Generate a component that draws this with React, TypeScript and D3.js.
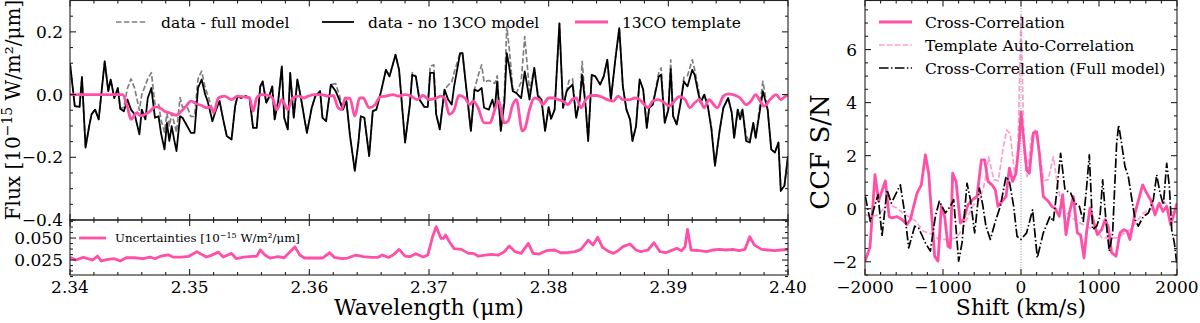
import * as d3 from "d3";

const FONT = "'DejaVu Serif', serif";
const PINK = "#ff4fa6";

// ---- left panel: residual spectra (wavelength in µm, flux in 1e-15 W/m²/µm)
const dataWl = [
  2.3400, 2.3404, 2.3408, 2.3410, 2.3413, 2.3416, 2.3418, 2.3421, 2.3424, 2.3429,
  2.3432, 2.3434, 2.3437, 2.3440, 2.3442, 2.3445, 2.3448, 2.3451, 2.3454, 2.3458,
  2.3460, 2.3463, 2.3465, 2.3468, 2.3471, 2.3474, 2.3476, 2.3479, 2.3481, 2.3483,
  2.3485, 2.3487, 2.3489, 2.3492, 2.3494, 2.3498, 2.3501, 2.3504, 2.3507, 2.3510,
  2.3513, 2.3515, 2.3519, 2.3522, 2.3525, 2.3528, 2.3531, 2.3535, 2.3538, 2.3540,
  2.3543, 2.3547, 2.3550, 2.3553, 2.3556, 2.3559, 2.3561, 2.3564, 2.3566, 2.3569,
  2.3571, 2.3574, 2.3577, 2.3579, 2.3582, 2.3584, 2.3587, 2.3590, 2.3593, 2.3596,
  2.3598, 2.3602, 2.3605, 2.3609, 2.3611, 2.3614, 2.3618, 2.3622, 2.3625, 2.3628,
  2.3631, 2.3634, 2.3638, 2.3641, 2.3643, 2.3646, 2.3650, 2.3653, 2.3656, 2.3660,
  2.3664, 2.3667, 2.3672, 2.3675, 2.3680, 2.3684, 2.3686, 2.3689, 2.3692, 2.3696,
  2.3699, 2.3701, 2.3704, 2.3706, 2.3709, 2.3713, 2.3716, 2.3719, 2.3721, 2.3726,
  2.3728, 2.3731, 2.3735, 2.3738, 2.3741, 2.3744, 2.3746, 2.3750, 2.3753, 2.3755,
  2.3757, 2.3760, 2.3763, 2.3765, 2.3767, 2.3770, 2.3773, 2.3777, 2.3780, 2.3784,
  2.3788, 2.3791, 2.3794, 2.3797, 2.3800, 2.3802, 2.3805, 2.3809, 2.3812, 2.3815,
  2.3817, 2.3820, 2.3823, 2.3826, 2.3828, 2.3831, 2.3833, 2.3836, 2.3839, 2.3843,
  2.3846, 2.3849, 2.3852, 2.3856, 2.3859, 2.3862, 2.3865, 2.3868, 2.3870, 2.3873,
  2.3876, 2.3879, 2.3882, 2.3884, 2.3887, 2.3892, 2.3894, 2.3897, 2.3900, 2.3902,
  2.3904, 2.3907, 2.3910, 2.3913, 2.3916, 2.3920, 2.3922, 2.3925, 2.3927, 2.3930,
  2.3933, 2.3936, 2.3939, 2.3943, 2.3946, 2.3950, 2.3953, 2.3955, 2.3958, 2.3960,
  2.3962, 2.3965, 2.3968, 2.3971, 2.3973, 2.3979, 2.3983, 2.3986, 2.3989, 2.3992,
  2.3994, 2.3997, 2.4000,
];
const fluxNo13CO = [
  0.100, -0.037, -0.039, 0.056, -0.169, -0.101, -0.063, -0.048, -0.079, 0.106,
  0.011, 0.048, -0.011, 0.021, -0.045, -0.053, -0.016, -0.048, -0.063, -0.127,
  -0.048, -0.079, -0.011, 0.021, -0.074, -0.069, -0.122, -0.175, -0.090, -0.148,
  -0.101, -0.143, -0.180, -0.069, -0.074, -0.101, -0.122, -0.122, 0.021, 0.048,
  0.000, -0.021, -0.085, -0.048, -0.021, -0.079, -0.132, -0.143, -0.037, -0.005,
  -0.011, -0.005, -0.011, -0.106, -0.106, 0.026, 0.042, -0.026, -0.011, 0.026,
  -0.079, -0.021, 0.090, -0.074, -0.111, 0.069, -0.074, 0.048, -0.011, -0.079,
  -0.122, -0.042, -0.005, 0.011, -0.074, -0.085, 0.032, 0.011, -0.016, -0.048,
  -0.021, -0.132, -0.243, -0.153, -0.069, -0.074, -0.196, -0.053, -0.048, 0.011,
  0.079, 0.058, 0.127, 0.079, -0.153, -0.032, 0.063, 0.058, -0.016, -0.039,
  -0.039, 0.069, 0.069, -0.063, -0.111, 0.016, -0.016, -0.032, 0.026, 0.132,
  0.132, 0.026, -0.116, 0.016, 0.011, 0.021, -0.042, -0.048, -0.016, -0.048,
  0.042, -0.116, -0.026, 0.132, 0.090, 0.011, 0.005, -0.011, 0.074, -0.016,
  0.085, -0.005, -0.016, -0.116, -0.040, -0.077, -0.048, 0.227, -0.042, 0.011,
  0.021, 0.032, -0.074, -0.016, 0.063, -0.042, -0.148, 0.063, 0.058, 0.032,
  0.058, 0.111, -0.016, 0.122, 0.212, 0.026, -0.048, -0.079, -0.148, -0.101,
  0.048, 0.016, -0.106, -0.042, -0.032, 0.058, 0.063, -0.090, -0.048, 0.081,
  -0.069, -0.095, -0.032, 0.042, 0.026, 0.079, 0.063, 0.005, -0.026, 0.000,
  -0.037, -0.111, -0.227, -0.111, -0.042, -0.011, -0.058, -0.138, -0.048, -0.079,
  -0.048, -0.148, -0.153, -0.090, -0.138, 0.011, -0.048, -0.175, -0.185, -0.153,
  -0.307, -0.291, -0.196,
];
const fluxFull = [
  0.100, -0.037, -0.039, 0.056, -0.169, -0.101, -0.063, -0.048, -0.079, 0.106,
  0.011, 0.048, -0.011, 0.021, -0.045, -0.040, 0.020, 0.050, 0.020, -0.050,
  0.000, 0.030, 0.050, 0.070, -0.030, -0.030, -0.080, -0.120, -0.060, -0.100,
  -0.060, -0.090, -0.120, -0.010, -0.040, -0.040, -0.070, -0.070, 0.050, 0.075,
  0.020, 0.000, -0.050, -0.048, -0.021, -0.079, -0.132, -0.143, -0.037, -0.005,
  -0.011, -0.005, -0.011, -0.106, -0.106, 0.026, 0.042, -0.026, -0.011, 0.026,
  -0.079, -0.021, 0.090, -0.074, -0.111, 0.069, -0.074, 0.048, -0.011, -0.079,
  -0.122, -0.042, -0.005, 0.011, -0.074, -0.085, 0.032, 0.035, 0.000, -0.048,
  -0.021, -0.132, -0.243, -0.153, -0.069, -0.074, -0.196, -0.053, -0.048, 0.011,
  0.079, 0.058, 0.127, 0.079, -0.153, -0.032, 0.070, 0.058, -0.016, -0.039,
  -0.039, 0.090, 0.095, -0.063, -0.111, 0.016, 0.030, 0.040, 0.070, 0.132,
  0.132, 0.026, -0.116, 0.016, 0.060, 0.095, 0.040, 0.045, 0.040, 0.035,
  0.060, -0.116, 0.000, 0.217, 0.150, 0.020, 0.005, 0.040, 0.185, 0.010,
  0.085, 0.000, -0.016, -0.116, -0.040, -0.077, -0.048, 0.227, -0.042, 0.011,
  0.045, 0.050, -0.074, -0.016, 0.106, -0.042, -0.148, 0.063, 0.058, 0.032,
  0.058, 0.111, -0.016, 0.122, 0.212, 0.026, -0.048, -0.079, -0.148, -0.101,
  0.048, 0.016, -0.106, -0.042, -0.032, 0.070, 0.085, -0.090, -0.048, 0.111,
  -0.069, -0.095, -0.032, 0.055, 0.060, 0.111, 0.080, 0.020, -0.026, 0.000,
  -0.037, -0.100, -0.227, -0.111, -0.042, -0.011, -0.058, -0.138, -0.048, -0.060,
  -0.048, -0.130, -0.153, -0.090, -0.138, 0.042, -0.048, -0.175, -0.185, -0.153,
  -0.307, -0.291, -0.196,
];

const templateWl = [
  2.3400, 2.3444, 2.3448, 2.3451, 2.3454, 2.3456, 2.3459, 2.3463, 2.3467, 2.3471,
  2.3475, 2.3479, 2.3483, 2.3489, 2.3493, 2.3497, 2.3501, 2.3506, 2.3510, 2.3514,
  2.3518, 2.3520, 2.3524, 2.3529, 2.3535, 2.3540, 2.3546, 2.3550, 2.3553, 2.3556,
  2.3560, 2.3566, 2.3569, 2.3573, 2.3577, 2.3582, 2.3586, 2.3591, 2.3595, 2.3599,
  2.3604, 2.3610, 2.3616, 2.3620, 2.3624, 2.3627, 2.3630, 2.3634, 2.3638, 2.3642,
  2.3645, 2.3650, 2.3655, 2.3659, 2.3664, 2.3670, 2.3674, 2.3680, 2.3685, 2.3690,
  2.3695, 2.3700, 2.3706, 2.3710, 2.3713, 2.3717, 2.3721, 2.3725, 2.3730, 2.3734,
  2.3737, 2.3741, 2.3746, 2.3751, 2.3755, 2.3758, 2.3763, 2.3766, 2.3770, 2.3773,
  2.3778, 2.3780, 2.3784, 2.3788, 2.3792, 2.3795, 2.3800,
  2.3804, 2.3808, 2.3812, 2.3816, 2.3820, 2.3823, 2.3827, 2.3831, 2.3836, 2.3840,
  2.3844, 2.3849, 2.3854, 2.3858, 2.3862, 2.3868, 2.3872, 2.3876, 2.3880, 2.3883,
  2.3887, 2.3891, 2.3895, 2.3901, 2.3905, 2.3909, 2.3914, 2.3918, 2.3922, 2.3926,
  2.3930, 2.3934, 2.3939, 2.3941, 2.3946, 2.3950, 2.3954, 2.3960, 2.3965, 2.3969,
  2.3973, 2.3976, 2.3980, 2.3985, 2.3990, 2.3994, 2.3998, 2.4000,
];
const templateFlux = [
  0, 0, -0.040, -0.079, -0.065, -0.058, -0.068, -0.063, -0.053, -0.039,
  -0.042, -0.053, -0.058, -0.066, -0.053, -0.037, -0.021, -0.030, -0.035, -0.042,
  -0.040, -0.058, -0.011, -0.005, -0.016, -0.005, -0.008, -0.010, -0.053, -0.011,
  0.000, -0.003, -0.010, -0.048, -0.016, -0.048, -0.011, -0.005, -0.011, -0.005,
  0.000, 0.000, -0.005, -0.003, -0.042, -0.048, -0.011, -0.012, -0.069, -0.011,
  -0.011, -0.042, -0.032, -0.007, -0.005, 0.000, -0.005, 0.000, -0.005, -0.016,
  -0.003, -0.016, -0.011, -0.005, -0.011, -0.063, -0.048, -0.003, -0.011, -0.032,
  -0.021, -0.042, -0.090, -0.090, -0.048, -0.021, -0.090, -0.085, -0.032, -0.016,
  -0.116, -0.110, -0.048, -0.011, -0.016, -0.032, -0.011,
  -0.011, -0.016, -0.021, -0.032, -0.014, -0.011, -0.042, -0.016, -0.003, -0.003,
  -0.007, -0.016, -0.021, -0.005, -0.016, -0.016, -0.011, -0.016, -0.032, -0.042,
  -0.021, -0.016, -0.021, -0.037, -0.021, -0.007, -0.016, -0.042, -0.026, -0.016,
  -0.042, -0.016, -0.037, -0.042, -0.005, 0.002, 0.000, -0.011, -0.032, -0.021,
  0.000, -0.016, -0.037, -0.016, 0.000, -0.016, -0.005, -0.003,
];

const uncWl = [
  2.3400, 2.3405, 2.3411, 2.3415, 2.3419, 2.3423, 2.3426, 2.3432, 2.3437, 2.3442,
  2.3447, 2.3454, 2.3461, 2.3467, 2.3471, 2.3476, 2.3482, 2.3486, 2.3493, 2.3499,
  2.3506, 2.3510, 2.3514, 2.3518, 2.3524, 2.3528, 2.3535, 2.3539, 2.3545, 2.3552,
  2.3556, 2.3559, 2.3563, 2.3567, 2.3574, 2.3579, 2.3588, 2.3592, 2.3596,
  2.3604, 2.3611, 2.3617, 2.3621, 2.3627, 2.3632, 2.3639, 2.3645, 2.3652, 2.3657,
  2.3661, 2.3666, 2.3670, 2.3675, 2.3680, 2.3684, 2.3689, 2.3695, 2.3699, 2.3703,
  2.3706, 2.3710, 2.3712, 2.3714, 2.3717, 2.3721, 2.3727, 2.3733, 2.3737, 2.3741,
  2.3747, 2.3752, 2.3758, 2.3763, 2.3767, 2.3772, 2.3777, 2.3783, 2.3787, 2.3792,
  2.3798,
  2.3805, 2.3810, 2.3816, 2.3822, 2.3827, 2.3833, 2.3837, 2.3841, 2.3845, 2.3849,
  2.3854, 2.3858, 2.3862, 2.3868, 2.3873, 2.3877, 2.3883, 2.3888, 2.3893, 2.3898,
  2.3902, 2.3907, 2.3911, 2.3914, 2.3916, 2.3919, 2.3926, 2.3932, 2.3937, 2.3943,
  2.3948, 2.3954, 2.3959, 2.3964, 2.3968, 2.3972, 2.3978, 2.3983, 2.3989, 2.3994,
  2.4000,
];
const uncVal = [
  0.0280, 0.0250, 0.0280, 0.0265, 0.0250, 0.0295, 0.0240, 0.0258, 0.0265, 0.0240,
  0.0276, 0.0276, 0.0265, 0.0284, 0.0265, 0.0295, 0.0310, 0.0284, 0.0284, 0.0291,
  0.0345, 0.0314, 0.0284, 0.0303, 0.0340, 0.0284, 0.0326, 0.0265, 0.0284, 0.0291,
  0.0291, 0.0364, 0.0307, 0.0273, 0.0288, 0.0276, 0.0400, 0.0307, 0.0273,
  0.0273, 0.0273, 0.0333, 0.0280, 0.0265, 0.0273, 0.0307, 0.0288, 0.0280, 0.0280,
  0.0307, 0.0280, 0.0307, 0.0371, 0.0295, 0.0288, 0.0322, 0.0284, 0.0307, 0.0515,
  0.0629, 0.0496, 0.0496, 0.0534, 0.0458, 0.0380, 0.0371, 0.0326, 0.0326, 0.0295,
  0.0307, 0.0314, 0.0307, 0.0345, 0.0409, 0.0345, 0.0326, 0.0440, 0.0326, 0.0318,
  0.0356,
  0.0364, 0.0333, 0.0333, 0.0345, 0.0371, 0.0477, 0.0420, 0.0508, 0.0394, 0.0356,
  0.0326, 0.0356, 0.0402, 0.0432, 0.0364, 0.0345, 0.0364, 0.0447, 0.0345, 0.0333,
  0.0356, 0.0383, 0.0356, 0.0402, 0.0599, 0.0364, 0.0356, 0.0345, 0.0364, 0.0371,
  0.0364, 0.0371, 0.0356, 0.0371, 0.0515, 0.0420, 0.0371, 0.0364, 0.0356, 0.0364,
  0.0371,
];

// ---- right panel: CCF S/N vs shift (km/s)
const ccShift = [
  -2000, -1936, -1872, -1825, -1739, -1690, -1654, -1590, -1526, -1462,
  -1419, -1376, -1333, -1278, -1226, -1184, -1141, -1107, -1064, -1021,
  -979, -936, -906, -876, -833, -778, -735, -680, -620, -564,
  -508, -466, -423, -372, -329, -295, -244, -192, -149, -107,
  -64, -21, 0, 72, 107, 158, 201, 235, 286, 350,
  393, 440, 491, 534, 577, 620, 671, 722, 765, 808,
  842, 885, 936, 979, 1034, 1077, 1120, 1162, 1218, 1269,
  1320, 1360, 1397, 1462, 1560, 1611, 1662, 1718, 1773, 1820,
  1868, 1919, 1960, 2000,
];
const ccSN = [
  -1.98, -1.45, 1.28, 0.30, 1.05, -0.30, -0.35, -0.30, -0.41, -0.60,
  -0.41, 0.09, 0.59, 0.90, 2.03, 1.34, -0.41, -1.79, -1.98, 0.09,
  -0.29, -1.41, -1.48, 1.34, 1.03, -0.54, -0.41, 0.15, 0.34, 0.46,
  1.84, 1.84, 1.03, 0.90, 0.71, 0.09, 0.28, 0.46, 1.53, 1.03,
  1.34, 2.59, 3.65, 1.46, 1.34, 2.84, 2.90, 2.09, 0.46, 0.28,
  0.09, 0.00, -0.29, 0.53, -0.98, -0.16, 0.46, -0.91, -1.00, -1.85,
  -0.85, 0.03, -0.54, -0.98, -0.79, -0.41, -0.70, -1.66, -1.79, -0.91,
  -0.79, -0.85, -1.16, -0.16, 0.90, 0.59, 0.34, -0.23, 0.21, -0.10,
  0.09, -0.60, -0.20, 0.21,
];

const autoShift = [
  -2000, -1932, -1850, -1700, -1594, -1500, -1355, -1252, -1124, -1055,
  -953, -825, -756, -697, -611, -526, -462, -414, -350, -291,
  -226, -183, -140, -77, -40, 0, 40, 77, 140, 183,
  226, 291, 350, 414, 462, 521, 586, 700, 860, 971,
  1035, 1130, 1227, 1398, 1569, 1740, 1830, 1900, 2000,
];
const autoSN = [
  -0.22, -0.29, -0.25, 0.15, 0.03, -0.20, -0.45, -0.85, -0.98, -1.16,
  -1.16, -1.10, -0.79, -0.41, 0.15, 0.34, 1.03, 1.96, 1.10, 1.05,
  2.34, 2.96, 2.84, 1.21, 2.20, 7.34, 2.20, 1.21, 2.84, 2.96,
  2.34, 1.05, 1.10, 1.96, 1.03, 0.09, -0.16, -0.45, -0.70, -0.79,
  -1.10, -1.10, -1.10, -0.79, -0.16, 0.09, 0.30, -0.10, -0.16,
];

const fullShift = [
  -1996, -1932, -1833, -1782, -1718, -1662, -1547, -1491, -1440, -1363,
  -1312, -1226, -1162, -1098, -1047, -970, -906, -863, -799, -756,
  -692, -649, -594, -534, -491, -449, -393, -329, -265, -192,
  -149, -94, -51, -2, 72, 149, 209, 286, 372, 414,
  457, 508, 564, 637, 692, 748, 799, 842, 876, 919,
  970, 1013, 1047, 1090, 1132, 1175, 1226, 1252, 1290, 1333,
  1376, 1462, 1504, 1568, 1633, 1697, 1740, 1782, 1825, 1868,
  1902, 1932, 1966, 1996,
];
const fullSN = [
  0.46, -0.48, 0.53, -1.04, 0.71, 0.21, 0.90, -0.16, -1.48, -0.66,
  -0.73, -1.29, -1.60, -0.29, 0.28, -0.16, 0.09, 0.34, -1.98, -1.29,
  0.96, 0.34, -0.91, 0.78, 0.15, -0.66, -1.16, -0.48, 0.09, 1.21,
  1.03, 0.09, -1.04, -1.16, -0.91, -0.04, -1.85, -0.91, -0.29, -0.48,
  0.59, 2.09, 0.71, 0.59, 0.21, 0.09, -0.48, 0.84, 2.03, -0.79,
  -0.66, -0.29, 1.09, -0.48, -1.60, -0.91, 2.46, 3.15, 2.46, 1.59,
  1.21, -0.41, -0.66, -0.29, -0.16, 0.34, 1.28, 0.59, 0.15, 1.71,
  0.84, -0.79, -1.29, -2.04,
];

// ---- ticks
const wlTicks = [2.34, 2.35, 2.36, 2.37, 2.38, 2.39, 2.40];
const fluxTicks = [-0.4, -0.2, 0.0, 0.2];
const uncTicks = [0.025, 0.050];
const shiftTicks = [-2000, -1000, 0, 1000, 2000];
const snTicks = [-2, 0, 2, 4, 6];

const minus = (s: string) => s.replace("-", "\u2212");

type Lin = d3.ScaleLinear<number, number>;

function Frame({ x, y, xMaj, xMin, yMaj, yMin }: { x: Lin; y: Lin; xMaj: number[]; xMin: number[]; yMaj: number[]; yMin: number[] }) {
  const [x0, x1] = x.range();
  const [y1, y0] = y.range();
  const ticks: JSX.Element[] = [];
  const add = (v: number, len: number, key: string) => {
    const px = x(v);
    ticks.push(<line key={"b" + key} x1={px} x2={px} y1={y1} y2={y1 - len} />);
    ticks.push(<line key={"t" + key} x1={px} x2={px} y1={y0} y2={y0 + len} />);
  };
  const addY = (v: number, len: number, key: string) => {
    const py = y(v);
    ticks.push(<line key={"l" + key} x1={x0} x2={x0 + len} y1={py} y2={py} />);
    ticks.push(<line key={"r" + key} x1={x1} x2={x1 - len} y1={py} y2={py} />);
  };
  xMaj.forEach((v, i) => add(v, 6, "M" + i));
  xMin.forEach((v, i) => add(v, 3, "m" + i));
  yMaj.forEach((v, i) => addY(v, 6, "M" + i));
  yMin.forEach((v, i) => addY(v, 3, "m" + i));
  return (
    <g stroke="#222" strokeWidth={1.1} fill="none">
      {ticks}
      <rect x={x0} y={y0} width={x1 - x0} height={y1 - y0} />
    </g>
  );
}

const minorOf = (lo: number, hi: number, step: number, major: number) =>
  d3.range(Math.round((hi - lo) / step) + 1).map(i => lo + i * step)
    .filter(v => Math.abs(v / major - Math.round(v / major)) > 1e-6);

export default function App() {
  const xW = d3.scaleLinear().domain([2.34, 2.40]).range([70, 788]);
  const yF = d3.scaleLinear().domain([-0.4, 0.3]).range([220, 0.5]);
  const yU = d3.scaleLinear().domain([0.008, 0.0705]).range([275, 220]);
  const xS = d3.scaleLinear().domain([-2000, 2000]).range([865, 1177]);
  const yS = d3.scaleLinear().domain([-2.5, 7.85]).range([275, 0.5]);

  const lineW = (ys: number[]) => d3.line<number>().x((_d, i) => xW(dataWl[i])).y(d => yF(d))(ys) || "";
  const tmplPath = d3.line<number>().x((_d, i) => xW(templateWl[i])).y(d => yF(d)).curve(d3.curveMonotoneX)(templateFlux) || "";
  const uncPath = d3.line<number>().x((_d, i) => xW(uncWl[i])).y(d => yU(d))(uncVal) || "";
  const ccLine = (xs: number[], ys: number[]) => d3.line<number>().x((_d, i) => xS(xs[i])).y(d => yS(d))(ys) || "";

  const wlMinor = minorOf(2.34, 2.40, 0.002, 0.01);
  const fluxMinor = minorOf(-0.4, 0.3, 0.05, 0.2);
  const uncMinor = minorOf(0.00625, 0.06875, 0.00625, 0.025);
  const shiftMinor = minorOf(-2000, 2000, 200, 1000);
  const snMinor = minorOf(-2.5, 7.5, 0.5, 2);

  const tickText = { fontFamily: FONT, fontSize: 17, fill: "#000" } as const;

  return (
    <svg width={1200} height={323} style={{ position: "absolute", left: 0, top: 0, background: "#fff" }}>
      <defs>
        <clipPath id="cTop"><rect x={70} y={0.5} width={718} height={219.5} /></clipPath>
        <clipPath id="cBot"><rect x={70} y={220} width={718} height={55} /></clipPath>
        <clipPath id="cR"><rect x={865} y={0.5} width={312} height={274.5} /></clipPath>
      </defs>

      {/* left top: spectra */}
      <g clipPath="url(#cTop)" fill="none" strokeLinejoin="round">
        <path d={lineW(fluxFull)} stroke="#808080" strokeWidth={1.7} strokeDasharray="5.5,2.4" />
        <path d={lineW(fluxNo13CO)} stroke="#000" strokeWidth={1.8} />
        <path d={tmplPath} stroke={PINK} strokeWidth={2.8} />
      </g>
      <Frame x={xW} y={yF} xMaj={wlTicks} xMin={wlMinor} yMaj={fluxTicks} yMin={fluxMinor} />
      {fluxTicks.map(v => (
        <text key={v} x={63} y={yF(v)} textAnchor="end" dominantBaseline="central" {...tickText}>{minus(v.toFixed(1))}</text>
      ))}

      {/* left top legend */}
      <g fontFamily={FONT} fontSize={15.5} fill="#000">
        <line x1={116} x2={147} y1={22} y2={22} stroke="#808080" strokeWidth={1.7} strokeDasharray="5.5,2.4" />
        <text x={161} y={27.5}>data - full model</text>
        <line x1={322} x2={354} y1={22} y2={22} stroke="#000" strokeWidth={1.8} />
        <text x={368} y={27.5}>data - no 13CO model</text>
        <line x1={575} x2={608} y1={22} y2={22} stroke={PINK} strokeWidth={2.8} />
        <text x={622} y={27.5}>13CO template</text>
      </g>

      {/* left bottom: uncertainties */}
      <g clipPath="url(#cBot)" fill="none">
        <path d={uncPath} stroke={PINK} strokeWidth={2.8} strokeLinejoin="round" />
      </g>
      <Frame x={xW} y={yU} xMaj={wlTicks} xMin={wlMinor} yMaj={uncTicks} yMin={uncMinor} />
      {uncTicks.map(v => (
        <text key={v} x={63} y={yU(v)} textAnchor="end" dominantBaseline="central" {...tickText}>{v.toFixed(3)}</text>
      ))}
      <line x1={79} x2={106} y1={238} y2={238} stroke={PINK} strokeWidth={2.8} />
      <text x={115} y={242} fontFamily={FONT} fontSize={11.8}>
        Uncertainties [10<tspan fontSize={8} dy={-4.5}>{"\u221215"}</tspan><tspan dy={4.5}> W/m²/μm]</tspan>
      </text>
      {wlTicks.map(v => (
        <text key={v} x={xW(v)} y={293} textAnchor="middle" {...tickText}>{v.toFixed(2)}</text>
      ))}

      {/* left axis labels */}
      <text transform="translate(20,110) rotate(-90)" textAnchor="middle" fontFamily={FONT} fontSize={20}>
        Flux [10<tspan fontSize={14} dy={-8}>{"\u221215"}</tspan><tspan dy={8}> W/m²/μm]</tspan>
      </text>
      <text x={429} y={315} textAnchor="middle" fontFamily={FONT} fontSize={22}>Wavelength (μm)</text>

      {/* right: CCF */}
      <g clipPath="url(#cR)" fill="none" strokeLinejoin="round">
        <path d={ccLine(ccShift, ccSN)} stroke={PINK} strokeWidth={2.8} />
        <path d={ccLine(autoShift, autoSN)} stroke={PINK} strokeOpacity={0.55} strokeWidth={1.7} strokeDasharray="5.5,2.4" />
        <path d={ccLine(fullShift, fullSN)} stroke="#000" strokeWidth={1.7} strokeDasharray="9.6,2.4,1.5,2.4" />
        <line x1={xS(0)} x2={xS(0)} y1={0} y2={275} stroke="#888" strokeWidth={1} strokeDasharray="1,1.7" />
      </g>
      <Frame x={xS} y={yS} xMaj={shiftTicks} xMin={shiftMinor} yMaj={snTicks} yMin={snMinor} />
      {snTicks.map(v => (
        <text key={v} x={857} y={yS(v)} textAnchor="end" dominantBaseline="central" {...tickText}>{minus(String(v))}</text>
      ))}
      {shiftTicks.map(v => (
        <text key={v} x={xS(v)} y={293} textAnchor="middle" {...tickText}>{minus(String(v))}</text>
      ))}
      <text transform="translate(829,152) rotate(-90)" textAnchor="middle" fontFamily={FONT} fontSize={26}>CCF S/N</text>
      <text x={1021} y={315} textAnchor="middle" fontFamily={FONT} fontSize={22}>Shift (km/s)</text>

      {/* right legend */}
      <g fontFamily={FONT} fontSize={15.5} fill="#000">
        <line x1={879} x2={912} y1={22} y2={22} stroke={PINK} strokeWidth={2.8} />
        <text x={925} y={27.5}>Cross-Correlation</text>
        <line x1={879} x2={912} y1={45} y2={45} stroke={PINK} strokeOpacity={0.55} strokeWidth={1.7} strokeDasharray="5.5,2.4" />
        <text x={925} y={50.5}>Template Auto-Correlation</text>
        <line x1={879} x2={912} y1={68} y2={68} stroke="#000" strokeWidth={1.7} strokeDasharray="9.6,2.4,1.5,2.4" />
        <text x={925} y={73.5}>Cross-Correlation (Full model)</text>
      </g>
    </svg>
  );
}
